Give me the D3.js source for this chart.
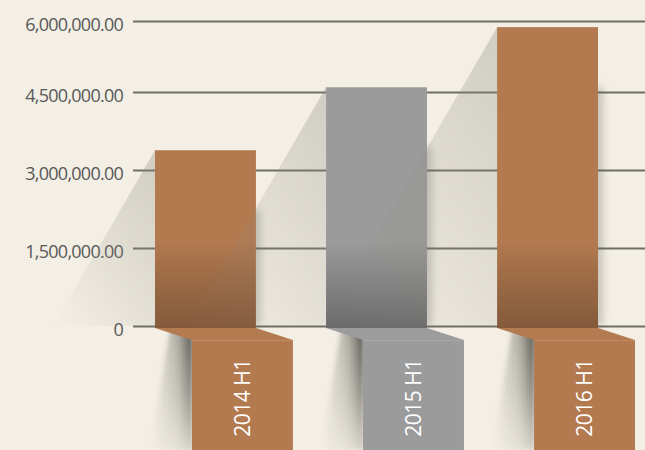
<!DOCTYPE html>
<html>
<head>
<meta charset="utf-8">
<script src="https://cdn.jsdelivr.net/npm/d3@7"></script>
<style>
  html, body { margin: 0; padding: 0; background: #f3efe5; }
  svg { display: block; }
</style>
</head>
<body>
<div id="app"></div>
<script>
(function (d3) {
  'use strict'

  // chart data
  const categories = ['2014 H1', '2015 H1', '2016 H1']
  const values = [3380000, 4600000, 5870000]
  const tickValues = [0, 1500000, 3000000, 4500000, 6000000]
  const tickLabels = ['0', '1,500,000.00', '3,000,000.00', '4,500,000.00', '6,000,000.00']

  // look
  const palette = ['brown', 'gray', 'brown']
  const tones = {
    brown: { top: '#b37a50', mid: '#a06d47', bottom: '#845a3b', fold: '#b47b51', box: '#b37a50', edge: '#c28c63' },
    gray: { top: '#9b9b9b', mid: '#8a8a8a', bottom: '#6b6b6b', fold: '#9c9c9c', box: '#9b9b9b', edge: '#a8a8a8' }
  }

  const w = 645
  const h = 450
  const gridLeft = 133
  const foldShift = 37
  const foldHeight = 12
  const shadowSlope = 0.58

  const svg = d3.select('#app')
    .append('svg')
    .attr('width', w)
    .attr('height', h)

  svg.append('rect')
    .attr('width', w)
    .attr('height', h)
    .attr('fill', '#f3efe5')

  // scales
  const yScale = d3.scaleLinear()
    .domain([0, 4500000, 6000000])
    .range([326, 92, 21])

  const xScale = d3.scaleBand()
    .domain(categories)
    .range([155, 598])
    .paddingInner(0.41)
    .paddingOuter(0)

  const bw = xScale.bandwidth()
  const y0 = yScale(0)

  // defs
  const defs = svg.append('defs')

  Object.keys(tones).forEach(function (k) {
    const g = defs.append('linearGradient')
      .attr('id', 'bar-' + k)
      .attr('gradientUnits', 'userSpaceOnUse')
      .attr('x1', 0).attr('x2', 0)
      .attr('y1', y0 - 85).attr('y2', y0 + 2)
    g.append('stop').attr('offset', 0).attr('stop-color', tones[k].top)
    g.append('stop').attr('offset', 0.35).attr('stop-color', tones[k].mid)
    g.append('stop').attr('offset', 1).attr('stop-color', tones[k].bottom)
  })

  const sg = defs.append('linearGradient')
    .attr('id', 'diag-shadow')
    .attr('x1', 1).attr('y1', 0)
    .attr('x2', 0.2).attr('y2', 1)
  sg.append('stop').attr('offset', 0).attr('stop-color', '#8c897e').attr('stop-opacity', 0.33)
  sg.append('stop').attr('offset', 0.6).attr('stop-color', '#8c897e').attr('stop-opacity', 0.15)
  sg.append('stop').attr('offset', 1).attr('stop-color', '#8c897e').attr('stop-opacity', 0.02)

  // horizontal shade for the box side shadow
  const hg = defs.append('linearGradient')
    .attr('id', 'box-shadow')
    .attr('x1', 1).attr('y1', 0)
    .attr('x2', 0).attr('y2', 0)
  hg.append('stop').attr('offset', 0).attr('stop-color', '#3e3c36').attr('stop-opacity', 0.9)
  hg.append('stop').attr('offset', 0.35).attr('stop-color', '#3e3c36').attr('stop-opacity', 0.38)
  hg.append('stop').attr('offset', 1).attr('stop-color', '#3e3c36').attr('stop-opacity', 0)

  // fades the box side shadow downwards
  const vg = defs.append('linearGradient')
    .attr('id', 'fade-v')
    .attr('x1', 0).attr('y1', 0)
    .attr('x2', 0).attr('y2', 1)
  vg.append('stop').attr('offset', 0).attr('stop-color', '#fff')
  vg.append('stop').attr('offset', 0.5).attr('stop-color', '#aaa')
  vg.append('stop').attr('offset', 1).attr('stop-color', '#333')

  defs.append('mask')
    .attr('id', 'fade-down')
    .attr('maskContentUnits', 'objectBoundingBox')
    .append('rect')
    .attr('width', 1).attr('height', 1)
    .attr('fill', 'url(#fade-v)')

  defs.append('filter')
    .attr('id', 'soft')
    .attr('x', -1).attr('y', -1).attr('width', 3).attr('height', 3)
    .append('feGaussianBlur')
    .attr('stdDeviation', 4)

  defs.append('filter')
    .attr('id', 'blur2')
    .attr('x', -0.5).attr('y', -0.5).attr('width', 2).attr('height', 2)
    .append('feGaussianBlur')
    .attr('stdDeviation', 2)

  // gridlines and tick labels
  const yAxis = d3.axisLeft(yScale)
    .tickValues(tickValues)
    .tickFormat(function (d, i) { return tickLabels[i] })
    .tickSize(-(w - gridLeft))
    .tickPadding(10)

  const axisG = svg.append('g')
    .attr('transform', 'translate(' + gridLeft + ',0)')
    .call(yAxis)
  axisG.select('.domain').remove()
  axisG.selectAll('.tick line')
    .attr('stroke', '#6f6e69')
    .attr('stroke-width', 2)
  axisG.selectAll('.tick text')
    .attr('fill', '#585858')
    .attr('dy', '0.5em')
    .style('font-family', '"Open Sans", sans-serif')
    .style('font-size', '18px')
    .style('letter-spacing', '-0.75px')

  // bars, one group each so later shadows fall on earlier bars
  const bars = svg.selectAll('.bar')
    .data(categories)
    .enter()
    .append('g')
    .attr('class', 'bar')

  // diagonal cast shadow
  bars.append('path')
    .attr('d', function (d, i) {
      const x = xScale(d)
      const top = yScale(values[i])
      return 'M' + x + ',' + top +
        'L' + (x - shadowSlope * (y0 - top)) + ',' + y0 +
        'L' + x + ',' + y0 + 'Z'
    })
    .attr('fill', 'url(#diag-shadow)')

  // soft side shadow right of the bar
  bars.append('rect')
    .attr('x', d => xScale(d) + bw - 5)
    .attr('y', (d, i) => yScale(values[i]) + 60)
    .attr('width', 9)
    .attr('height', (d, i) => y0 - yScale(values[i]) - 60)
    .attr('fill', '#5a5850')
    .attr('opacity', 0.35)
    .attr('filter', 'url(#soft)')

  // the bar
  bars.append('rect')
    .attr('x', d => xScale(d))
    .attr('y', (d, i) => yScale(values[i]))
    .attr('width', bw)
    .attr('height', (d, i) => y0 + 2 - yScale(values[i]))
    .attr('fill', (d, i) => 'url(#bar-' + palette[i] + ')')

  // shadow left of the hanging label box
  bars.append('g')
    .attr('mask', 'url(#fade-down)')
    .append('path')
    .attr('d', function (d) {
      const x = xScale(d) + foldShift
      return 'M' + (x + 1) + ',' + (y0 + 3) +
        'L' + (x + 1) + ',' + h +
        'L' + (x - 42) + ',' + h +
        'L' + (x - 22) + ',' + (y0 + 3) + 'Z'
    })
    .attr('fill', 'url(#box-shadow)')
    .attr('filter', 'url(#blur2)')

  // fold between bar and label box
  bars.append('path')
    .attr('d', function (d) {
      const x = xScale(d)
      const a = y0 + 2
      const b = a + foldHeight
      return 'M' + x + ',' + a +
        'L' + (x + bw) + ',' + a +
        'L' + (x + bw + foldShift) + ',' + b +
        'L' + (x + foldShift) + ',' + b + 'Z'
    })
    .attr('fill', (d, i) => tones[palette[i]].fold)

  // hanging label box
  bars.append('rect')
    .attr('x', d => xScale(d) + foldShift)
    .attr('y', y0 + 2 + foldHeight)
    .attr('width', bw)
    .attr('height', h - (y0 + 2 + foldHeight))
    .attr('fill', (d, i) => tones[palette[i]].box)

  bars.append('line')
    .attr('x1', d => xScale(d) + foldShift)
    .attr('x2', d => xScale(d) + foldShift + bw)
    .attr('y1', y0 + 2.5 + foldHeight)
    .attr('y2', y0 + 2.5 + foldHeight)
    .attr('stroke', (d, i) => tones[palette[i]].edge)
    .attr('stroke-width', 1)

  // category labels
  bars.append('text')
    .attr('transform', function (d) {
      const cx = xScale(d) + foldShift + bw / 2
      return 'translate(' + cx + ',398) rotate(-90)'
    })
    .attr('text-anchor', 'middle')
    .attr('dy', '0.36em')
    .attr('fill', '#ffffff')
    .style('font-family', '"Open Sans", sans-serif')
    .style('font-size', '21px')
    .style('letter-spacing', '-0.5px')
    .text(d => d)

}(d3))
</script>
</body>
</html>
